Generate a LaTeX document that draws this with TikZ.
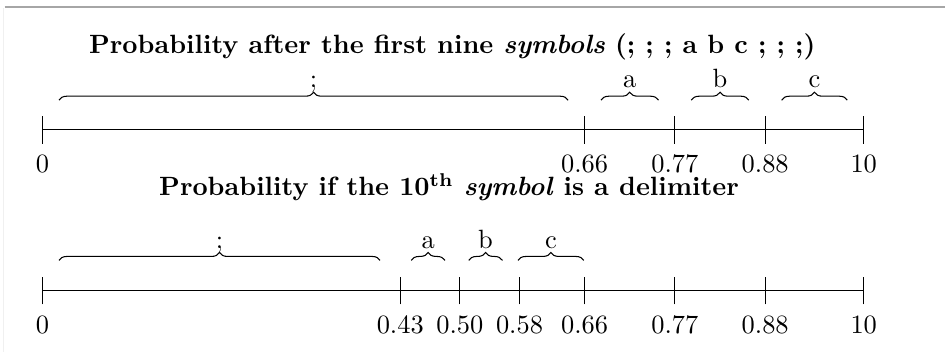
\documentclass[tikz,border=0pt]{standalone}
\usetikzlibrary{decorations.pathreplacing,positioning,calc}

\begin{document}
\begin{tikzpicture}[
    x=10.92cm, y=1cm,
    axisline/.style={thin},
    tickmark/.style={thin},
    brc/.style={decorate, decoration={brace, amplitude=3pt}},
    lbl/.style={anchor=base, inner sep=0pt},
    ttl/.style={font=\bfseries},
  ]
  \useasboundingbox (-0.05183,0) rectangle (1.09897,4.675);
  \draw[gray!70, line width=0.6pt] (-0.0463,4.582) -- (1.09897,4.582);
  \draw[gray!12] (-0.0476,4.57) -- (-0.0476,0);

  \node[ttl] (ttlA) at (0.499,4.049) {Probability after the first nine \textit{symbols} (; ; ; a b c ; ; ;)};
  \node[ttl] (ttlB) at (0.495,2.184) {Probability if the 10\textsuperscript{th} \textit{symbol} is a delimiter};

  % first line
  \coordinate (upL) at (0,2.950);
  \coordinate (upR) at (1,2.950);
  \draw[axisline] (upL) -- (upR);
  \foreach \x/\t [count=\i] in {0/0, 0.66/0.66, 0.77/0.77, 0.88/0.88, 1/10} {
    \draw[tickmark] (\x,2.764) -- (\x,3.136);
    \node (upnum\i) at (\x,2.49) {\t};
  }
  \foreach \a/\b/\s [count=\i] in {0.02/0.64/;, 0.68/0.75/a, 0.79/0.86/b, 0.90/0.98/c} {
    \draw[brc] (\a,3.343) -- (\b,3.343) node[lbl, midway, yshift=0.174cm] (upsym\i) {\s};
  }

  % second line
  \coordinate (loL) at (0,0.806);
  \coordinate (loR) at (1,0.806);
  \draw[axisline] (loL) -- (loR);
  \foreach \x/\t [count=\i] in {0/0, 0.4356/0.43, 0.5082/0.50, 0.5808/0.58, 0.66/0.66, 0.77/0.77, 0.88/0.88, 1/10} {
    \draw[tickmark] (\x,0.626) -- (\x,0.986);
    \node (lonum\i) at (\x,0.352) {\t};
  }
  \foreach \a/\b/\s [count=\i] in {0.02/0.411/;, 0.449/0.490/a, 0.519/0.560/b, 0.579/0.659/c} {
    \draw[brc] (\a,1.212) -- (\b,1.212) node[lbl, midway, yshift=0.16cm] (losym\i) {\s};
  }
\end{tikzpicture}
\end{document}
